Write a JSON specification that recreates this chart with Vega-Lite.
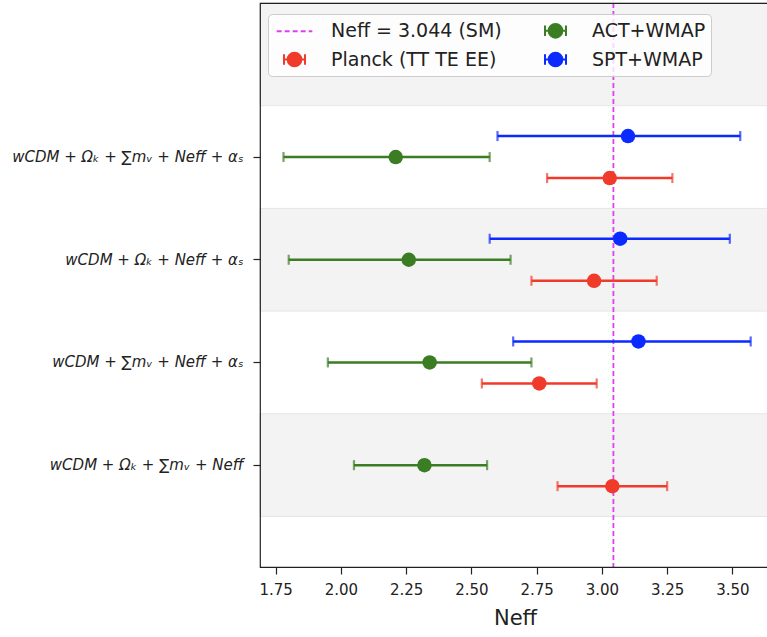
{
  "$schema": "https://vega.github.io/schema/vega-lite/v6.json",
  "width": 510,
  "height": 564,
  "autosize": {"type": "none"},
  "padding": {"left": 260, "top": 3, "right": 0, "bottom": 70},
  "background": "white",
  "config": {
    "font": "DejaVu Sans",
    "view": {"stroke": "#222222", "strokeWidth": 1.2},
    "style": {"cell": {"strokeForeground": true}},
    "axis": {"grid": false, "domain": false, "tickColor": "#222222", "tickWidth": 1.2, "tickSize": 7, "labelColor": "#222222", "titleColor": "#222222", "zindex": 1}
  },
  "datasets": {
    "bands": [
      {"model": "top", "shaded": true},
      {"model": "wCDM + Ωₖ + Neff + αₛ", "shaded": true},
      {"model": "wCDM + Ωₖ + ∑mᵥ + Neff", "shaded": true}
    ],
    "sm": [{"neff": 3.044, "series": "Neff = 3.044 (SM)"}],
    "points": [
      {"model": "wCDM + Ωₖ + ∑mᵥ + Neff + αₛ", "series": "SPT+WMAP", "neff": 3.10, "lo": 2.60, "hi": 3.53},
      {"model": "wCDM + Ωₖ + ∑mᵥ + Neff + αₛ", "series": "ACT+WMAP", "neff": 2.21, "lo": 1.78, "hi": 2.57},
      {"model": "wCDM + Ωₖ + ∑mᵥ + Neff + αₛ", "series": "Planck (TT TE EE)", "neff": 3.03, "lo": 2.79, "hi": 3.27},
      {"model": "wCDM + Ωₖ + Neff + αₛ", "series": "SPT+WMAP", "neff": 3.07, "lo": 2.57, "hi": 3.49},
      {"model": "wCDM + Ωₖ + Neff + αₛ", "series": "ACT+WMAP", "neff": 2.26, "lo": 1.80, "hi": 2.65},
      {"model": "wCDM + Ωₖ + Neff + αₛ", "series": "Planck (TT TE EE)", "neff": 2.97, "lo": 2.73, "hi": 3.21},
      {"model": "wCDM + ∑mᵥ + Neff + αₛ", "series": "SPT+WMAP", "neff": 3.14, "lo": 2.66, "hi": 3.57},
      {"model": "wCDM + ∑mᵥ + Neff + αₛ", "series": "ACT+WMAP", "neff": 2.34, "lo": 1.95, "hi": 2.73},
      {"model": "wCDM + ∑mᵥ + Neff + αₛ", "series": "Planck (TT TE EE)", "neff": 2.76, "lo": 2.54, "hi": 2.98},
      {"model": "wCDM + Ωₖ + ∑mᵥ + Neff", "series": "ACT+WMAP", "neff": 2.32, "lo": 2.05, "hi": 2.56},
      {"model": "wCDM + Ωₖ + ∑mᵥ + Neff", "series": "Planck (TT TE EE)", "neff": 3.04, "lo": 2.83, "hi": 3.25}
    ]
  },
  "resolve": {"scale": {"y": "shared", "x": "shared"}},
  "layer": [
    {
      "data": {"name": "bands"},
      "mark": {"type": "rect", "fill": "#f3f3f3", "stroke": "#e6e6e6", "strokeWidth": 1},
      "encoding": {
        "y": {"field": "model", "type": "nominal", "scale": {"domain": ["top", "wCDM + Ωₖ + ∑mᵥ + Neff + αₛ", "wCDM + Ωₖ + Neff + αₛ", "wCDM + ∑mᵥ + Neff + αₛ", "wCDM + Ωₖ + ∑mᵥ + Neff"], "range": [0, 513.5], "paddingInner": 0, "paddingOuter": 0}, "axis": {"values": ["wCDM + Ωₖ + ∑mᵥ + Neff + αₛ", "wCDM + Ωₖ + Neff + αₛ", "wCDM + ∑mᵥ + Neff + αₛ", "wCDM + Ωₖ + ∑mᵥ + Neff"], "title": null, "labelFontSize": 15, "labelFontStyle": "italic", "labelPadding": 10, "labelLimit": 300, "tickSize": 7, "zindex": 1}}
      }
    },
    {
      "data": {"name": "sm"},
      "mark": {"type": "rule", "strokeDash": [5, 3], "strokeWidth": 1.8},
      "encoding": {
        "x": {"field": "neff", "type": "quantitative", "scale": {"domain": [1.69, 3.644], "nice": false, "zero": false},
          "axis": {"values": [1.75, 2.0, 2.25, 2.5, 2.75, 3.0, 3.25, 3.5], "format": ".2f", "labelFontSize": 15, "labelPadding": 8, "tickSize": 7, "title": "Neff", "titleFontSize": 21, "titleFontWeight": "normal", "titlePadding": 10, "zindex": 1}},
        "color": {"field": "series", "type": "nominal"}
      }
    },
    {
      "data": {"name": "points"},
      "encoding": {
        "y": {"field": "model", "type": "nominal"},
        "yOffset": {"field": "series", "type": "nominal", "scale": {"domain": ["SPT+WMAP", "ACT+WMAP", "Planck (TT TE EE)"], "paddingInner": 0, "paddingOuter": 0.945}},
        "color": {"field": "series", "type": "nominal"}
      },
      "layer": [
        {
          "mark": {"type": "rule", "strokeWidth": 2.5},
          "encoding": {"x": {"field": "lo", "type": "quantitative"}, "x2": {"field": "hi"}}
        },
        {
          "mark": {"type": "tick", "orient": "vertical", "size": 10, "thickness": 2.2},
          "encoding": {"x": {"field": "lo", "type": "quantitative"}}
        },
        {
          "mark": {"type": "tick", "orient": "vertical", "size": 10, "thickness": 2.2},
          "encoding": {"x": {"field": "hi", "type": "quantitative"}}
        },
        {
          "mark": {"type": "circle", "size": 210, "opacity": 1},
          "encoding": {"x": {"field": "neff", "type": "quantitative"}}
        }
      ]
    }
  ],
  "encoding": {
    "color": {
      "type": "nominal",
      "scale": {"domain": ["Neff = 3.044 (SM)", "ACT+WMAP", "Planck (TT TE EE)", "SPT+WMAP"], "range": ["#e040f0", "#3a7d22", "#f03a2a", "#0a2aff"]},
      "legend": {
        "title": null,
        "orient": "none",
        "legendX": 8,
        "legendY": 11,
        "columns": 2,
        "direction": "horizontal",
        "labelFontSize": 19,
        "labelColor": "#222222",
        "labelLimit": 300,
        "labelOffset": 25,
        "symbolOffset": 10,
        "columnPadding": 32,
        "rowPadding": 6,
        "padding": 5,
        "symbolSize": 441,
        "symbolStrokeWidth": 2,
        "fillColor": "rgba(255,255,255,0.8)",
        "strokeColor": "#cccccc",
        "cornerRadius": 4,
        "zindex": 2,
        "encode": {
          "symbols": {
            "update": {
              "shape": {"signal": "datum.value === 'Neff = 3.044 (SM)' ? 'M-1.7,0L1.7,0' : 'M-1,0L1,0M-1,-0.5L-1,0.5M1,-0.5L1,0.5M0.65,0A0.65,0.65,0,1,1,-0.65,0A0.65,0.65,0,1,1,0.65,0Z'"},
              "strokeDash": {"signal": "datum.value === 'Neff = 3.044 (SM)' ? [5, 3] : []"},
              "fillOpacity": {"signal": "datum.value === 'Neff = 3.044 (SM)' ? 0 : 1"},
              "strokeWidth": {"value": 2}
            }
          }
        }
      }
    }
  }
}
